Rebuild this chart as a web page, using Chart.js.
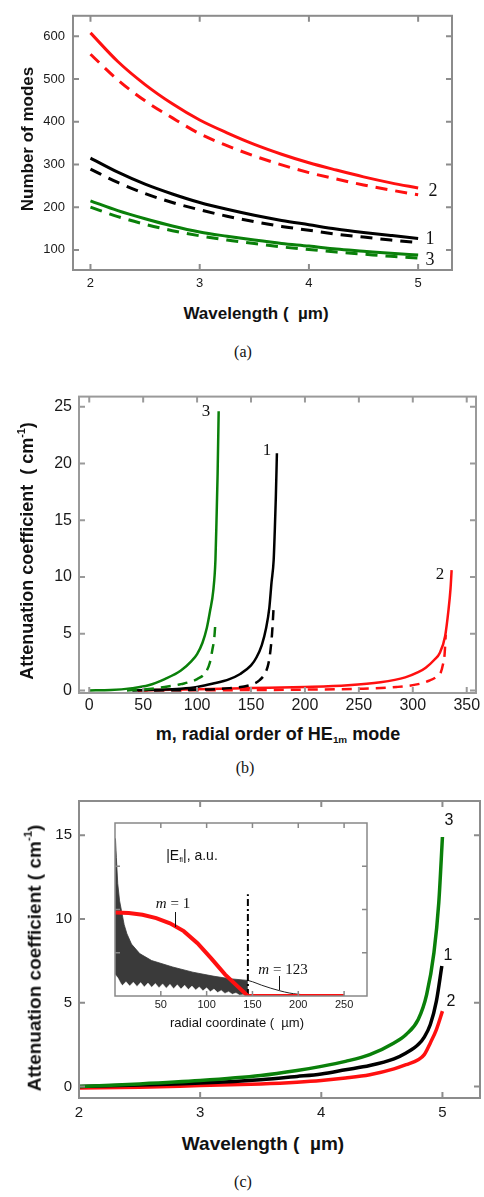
<!DOCTYPE html>
<html><head><meta charset="utf-8">
<script src="https://cdn.jsdelivr.net/npm/chart.js@4.4.0/dist/chart.umd.min.js"></script>
<style>
html,body{margin:0;padding:0;background:#fff;}
body{width:484px;height:1197px;position:relative;overflow:hidden;font-family:"Liberation Sans",Arial,sans-serif;color:#111;}
.box{position:absolute;}
.t{position:absolute;white-space:nowrap;transform:translate(-50%,-50%);line-height:1;}
.rot{transform:translate(-50%,-50%) rotate(-90deg);}
.serif{font-family:"Liberation Serif","Times New Roman",serif;}
.b{font-weight:bold;}
.ptr{position:absolute;width:0;border-left:1.2px solid #111;}
sup{font-size:0.6em;vertical-align:0.75em;}
sub{font-size:0.55em;vertical-align:-0.35em;}
</style></head><body>

<div class="box" style="left:0;top:0;width:484px;height:300px"><canvas id="ca"></canvas></div>
<div class="box" style="left:0;top:380px;width:484px;height:340px"><canvas id="cb"></canvas></div>
<div class="box" style="left:0;top:785px;width:484px;height:345px"><canvas id="cc"></canvas></div>
<div class="box" style="left:100px;top:815px;width:280px;height:225px"><canvas id="ci"></canvas></div>

<!-- panel (a) texts -->
<div class="t rot b" style="left:27px;top:139px;font-size:17px">Number of modes</div>
<div class="t b" style="left:256px;top:313px;font-size:17px">Wavelength (&nbsp;&nbsp;µm)</div>
<div class="t serif" style="left:243px;top:352px;font-size:16px">(a)</div>
<div class="t serif" style="left:433px;top:190px;font-size:18px">2</div>
<div class="t serif" style="left:430px;top:238px;font-size:18px">1</div>
<div class="t serif" style="left:430px;top:259px;font-size:18px">3</div>

<!-- panel (b) texts -->
<div class="t rot b" style="left:26px;top:551px;font-size:18px">Attenuation coefficient&nbsp;&nbsp;( cm<sup>-1</sup>)</div>
<div class="t b" style="left:278px;top:735px;font-size:18px">m, radial order of HE<sub>1m</sub> mode</div>
<div class="t serif" style="left:245px;top:768px;font-size:16px">(b)</div>
<div class="t serif" style="left:206px;top:410px;font-size:17px">3</div>
<div class="t serif" style="left:267px;top:449px;font-size:17px">1</div>
<div class="t serif" style="left:440px;top:573px;font-size:17px">2</div>

<!-- panel (c) texts -->
<div class="t rot b" style="left:33px;top:958px;font-size:19px">Attenuation coefficient ( cm<sup>-1</sup>)</div>
<div class="t b" style="left:263px;top:1143px;font-size:19px">Wavelength (&nbsp;&nbsp;µm)</div>
<div class="t serif" style="left:243px;top:1182px;font-size:16px">(c)</div>
<div class="t" style="left:449px;top:820px;font-size:16px">3</div>
<div class="t" style="left:448px;top:955px;font-size:16px">1</div>
<div class="t" style="left:451px;top:1001px;font-size:16px">2</div>

<!-- inset texts -->
<div class="t" style="left:192px;top:856px;font-size:14px">|E<sub>fi</sub>|, a.u.</div>
<div class="t serif" style="left:173px;top:903px;font-size:15px"><i>m</i> = 1</div>
<div class="ptr" style="left:175px;top:912px;height:15px"></div>
<div class="t serif" style="left:283px;top:969px;font-size:15px"><i>m</i> = 123</div>
<div class="ptr" style="left:279px;top:976px;height:14px"></div>
<div class="t" style="left:237px;top:1022px;font-size:13px">radial coordinate (&nbsp;&nbsp;µm)</div>

<script>
// ---------- Panel (a): number of modes vs wavelength ----------
const aWavelength = [2, 2.25, 2.5, 2.75, 3, 3.25, 3.5, 3.75, 4, 4.25, 4.5, 4.75, 5];
const aRedSolid   = [608, 541, 487, 442, 404, 374, 347, 324, 304, 287, 271, 257, 245];
const aRedDashed  = [558, 498, 449, 409, 372, 344, 320, 299, 281, 266, 252, 240, 229];
const aBlackSolid = [315, 282, 254, 231, 211, 195, 181, 169, 159, 149, 141, 134, 127];
const aBlackDashed= [289, 258, 232, 211, 194, 179, 166, 155, 146, 137, 130, 123, 117];
const aGreenSolid = [215, 192, 173, 156, 142, 132, 123, 115, 109, 102, 97, 92, 88];
const aGreenDashed= [200, 178, 160, 145, 133, 123, 115, 107, 101, 95, 90, 85, 81];
const aXTicks = [2, 3, 4, 5];
const aYTicks = [100, 200, 300, 400, 500, 600];

// ---------- Panel (b): attenuation vs radial order m ----------
const bGreenSolidM = [0, 20, 40, 55, 70, 85, 95, 100, 105, 109, 112, 115, 117, 118, 119, 120];
const bGreenSolidV = [0, 0.03, 0.2, 0.45, 1.0, 1.75, 2.6, 3.2, 4.2, 5.5, 7.0, 8.8, 11.5, 15, 19, 24.6];
const bGreenDashM  = [35, 50, 70, 85, 100, 108, 112, 114, 116, 117];
const bGreenDashV  = [0, 0.08, 0.3, 0.55, 1.0, 1.6, 2.5, 3.5, 4.7, 6.0];
const bBlackSolidM = [40, 60, 85, 100, 115, 130, 140, 150, 155, 160, 164, 167, 169, 171, 172, 173, 174];
const bBlackSolidV = [0, 0.05, 0.15, 0.3, 0.6, 1.0, 1.45, 2.2, 2.9, 4.0, 5.5, 7.3, 9.5, 11.5, 14, 17, 20.9];
const bBlackDashM  = [60, 100, 130, 150, 158, 163, 166, 168, 169.5, 171];
const bBlackDashV  = [0, 0.05, 0.2, 0.5, 0.9, 1.5, 2.3, 3.5, 5.0, 7.4];
const bRedSolidM   = [45, 100, 150, 200, 240, 270, 293, 305, 312, 320, 325, 330, 333, 335, 336];
const bRedSolidV   = [0, 0.1, 0.2, 0.3, 0.45, 0.72, 1.15, 1.6, 2.0, 2.7, 3.3, 4.8, 7.0, 9.0, 10.6];
const bRedDashM    = [45, 150, 200, 250, 285, 305, 315, 322, 326, 328, 329.5, 330.5];
const bRedDashV    = [0, 0.03, 0.07, 0.14, 0.3, 0.55, 0.85, 1.2, 1.6, 2.3, 3.2, 4.9];
const bXTicks = [0, 50, 100, 150, 200, 250, 300, 350];
const bYTicks = [0, 5, 10, 15, 20, 25];

// ---------- Panel (c): attenuation vs wavelength ----------
const cGreenL = [2.0, 2.5, 3.0, 3.5, 3.8, 4.0, 4.2, 4.4, 4.6, 4.7, 4.8, 4.87, 4.93, 4.97, 5.0];
const cGreenV = [0.0, 0.15, 0.35, 0.65, 0.95, 1.2, 1.5, 1.9, 2.6, 3.1, 4.0, 5.5, 8.0, 11.0, 14.9];
const cBlackL = [2.0, 2.5, 3.0, 3.5, 3.8, 4.0, 4.2, 4.4, 4.6, 4.7, 4.8, 4.85, 4.9, 4.95, 4.995];
const cBlackV = [0.0, 0.08, 0.2, 0.4, 0.6, 0.75, 1.0, 1.25, 1.65, 2.0, 2.5, 2.95, 3.7, 5.1, 7.2];
const cRedL   = [2.0, 2.5, 3.0, 3.5, 3.8, 4.0, 4.2, 4.4, 4.6, 4.7, 4.8, 4.85, 4.9, 4.95, 5.0];
const cRedV   = [-0.1, -0.05, 0.05, 0.15, 0.25, 0.35, 0.5, 0.7, 1.05, 1.3, 1.6, 1.9, 2.6, 3.4, 4.5];
const cXTicks = [2, 3, 4, 5];
const cYTicks = [0, 5, 10, 15];

// ---------- Inset: |E| vs radial coordinate ----------
const iRedR = [0, 15, 30, 45, 60, 75, 90, 105, 120, 135, 145, 250];
const iRedE = [1.93, 1.92, 1.88, 1.8, 1.68, 1.5, 1.22, 0.87, 0.5, 0.2, 0, 0];
const iUpperR = [0, 0.5, 1.5, 3, 5, 7, 10, 13, 18, 27, 40, 63, 85, 107, 125, 145];
const iUpperE = [0.5, 3.64, 3.2, 2.6, 2.2, 1.98, 1.65, 1.44, 1.2, 0.98, 0.82, 0.67, 0.55, 0.46, 0.4, 0.36];
const iLowerR = [0, 0.5, 3, 6, 8, 12, 16, 20, 24, 28, 32, 36, 40, 44, 48, 52, 56, 60, 64, 68, 72, 76, 80, 84, 88, 92, 96, 100, 104, 108, 112, 116, 120, 124, 128, 132, 136, 140, 145];
const iLowerE = [0.5, 0.5, 0.42, 0.3, 0.24, 0.33, 0.23, 0.32, 0.22, 0.31, 0.21, 0.3, 0.2, 0.29, 0.19, 0.28, 0.18, 0.27, 0.17, 0.26, 0.16, 0.25, 0.15, 0.23, 0.14, 0.21, 0.12, 0.19, 0.1, 0.16, 0.08, 0.13, 0.06, 0.1, 0.04, 0.07, 0.02, 0.03, 0.0];
const iTailR = [145, 150, 160, 170, 180, 190, 200, 210, 220];
const iTailE = [0.36, 0.33, 0.25, 0.18, 0.12, 0.07, 0.04, 0.02, 0.01];
const iCoreR = [145, 145];
const iCoreE = [0, 2.35];
const iXTicks = [50, 100, 150, 200, 250];
const iYTicks = [1, 2, 3];

const FONT = '"Liberation Sans", Arial, sans-serif';
const RED = '#ff1010', BLACK = '#000000', GREEN = '#0a800a';

function pts(xs, ys) { return xs.map((x, i) => ({ x: x, y: ys[i] })); }
function line(xs, ys, color, width, dash, smooth) {
  return { data: pts(xs, ys), borderColor: color, borderWidth: width, borderDash: dash || [],
    pointRadius: 0, showLine: true, fill: false, tension: 0,
    cubicInterpolationMode: smooth === false ? 'default' : 'monotone', borderCapStyle: 'butt' };
}
function axis(min, max, ticks, size, pad, fitKey, fitVal, show) {
  return { type: 'linear', min: min, max: max, bounds: 'data', display: show !== false,
    grid: { display: false, drawTicks: false }, border: { display: false },
    ticks: { autoSkip: false, maxRotation: 0, padding: pad, color: '#1a1a1a',
      font: { family: FONT, size: size }, callback: v => String(v) },
    afterBuildTicks: s => { s.ticks = ticks.map(v => ({ value: v })); },
    afterFit: s => { s[fitKey] = fitVal; } };
}
const frame = {
  id: 'frame',
  beforeDraw(chart, args, o) {
    if (!o.bg) return;
    const a = chart.chartArea, ctx = chart.ctx;
    ctx.save(); ctx.fillStyle = o.bg; ctx.fillRect(a.left, a.top, a.right - a.left, a.bottom - a.top); ctx.restore();
  },
  afterDraw(chart, args, o) {
    const a = chart.chartArea, ctx = chart.ctx, x = chart.scales.x, y = chart.scales.y;
    ctx.save();
    ctx.strokeStyle = o.color; ctx.lineWidth = o.width;
    ctx.beginPath();
    (o.xt || []).forEach(v => { const p = x.getPixelForValue(v);
      ctx.moveTo(p, a.bottom); ctx.lineTo(p, a.bottom - o.len);
      ctx.moveTo(p, a.top); ctx.lineTo(p, a.top + o.len); });
    (o.yt || []).forEach(v => { const p = y.getPixelForValue(v);
      ctx.moveTo(a.left, p); ctx.lineTo(a.left + o.len, p);
      ctx.moveTo(a.right, p); ctx.lineTo(a.right - o.len, p); });
    ctx.stroke();
    ctx.strokeRect(a.left, a.top, a.right - a.left, a.bottom - a.top);
    ctx.restore();
  }
};
function makeChart(id, datasets, xAx, yAx, pad, frameOpts) {
  return new Chart(document.getElementById(id), {
    type: 'scatter',
    data: { datasets: datasets },
    options: { responsive: true, maintainAspectRatio: false, animation: false, events: [],
      layout: { padding: pad },
      scales: { x: xAx, y: yAx },
      plugins: { legend: { display: false }, tooltip: { enabled: false }, frame: frameOpts } },
    plugins: [frame]
  });
}

// Panel (a)
makeChart('ca', [
  line(aWavelength, aGreenSolid, GREEN, 3),
  line(aWavelength, aGreenDashed, GREEN, 3, [12, 8]),
  line(aWavelength, aBlackSolid, BLACK, 3),
  line(aWavelength, aBlackDashed, BLACK, 3, [12, 8]),
  line(aWavelength, aRedSolid, RED, 3),
  line(aWavelength, aRedDashed, RED, 3, [12, 8])
], axis(1.84, 5.31, aXTicks, 13, 6, 'height', 30), axis(53, 648, aYTicks, 13, 8, 'width', 73),
  { left: 0, top: 8, right: 32, bottom: 0 },
  { color: '#8c8c8c', width: 2, len: 6, xt: aXTicks, yt: aYTicks });

// Panel (b)
makeChart('cb', [
  line(bGreenSolidM, bGreenSolidV, GREEN, 2.5),
  line(bGreenDashM, bGreenDashV, GREEN, 2.5, [10, 7]),
  line(bBlackSolidM, bBlackSolidV, BLACK, 2.5),
  line(bBlackDashM, bBlackDashV, BLACK, 2.5, [10, 7]),
  line(bRedSolidM, bRedSolidV, RED, 2.5),
  line(bRedDashM, bRedDashV, RED, 2.5, [10, 7])
], axis(-9.5, 358.6, bXTicks, 16, 3, 'height', 27), axis(-0.23, 25.9, bYTicks, 16, 7, 'width', 79),
  { left: 0, top: 13, right: 8, bottom: 0 },
  { color: '#9a9a9a', width: 2, len: 6, xt: bXTicks, yt: bYTicks });

// Panel (c)
makeChart('cc', [
  line(cGreenL, cGreenV, GREEN, 3.5),
  line(cBlackL, cBlackV, BLACK, 3.5),
  line(cRedL, cRedV, RED, 3.5)
], axis(2.0, 5.31, cXTicks, 15, 6, 'height', 32), axis(-0.69, 17.05, cYTicks, 15, 7, 'width', 79),
  { left: 0, top: 11, right: 4, bottom: 0 },
  { color: '#8c8c8c', width: 2, len: 6, xt: cXTicks, yt: cYTicks });

// Inset: grey band = area under upper envelope, with white area under the scalloped lower edge on top
const upper = line(iUpperR, iUpperE, '#3a3a3a', 0.8, [], false);
upper.fill = 'origin'; upper.backgroundColor = '#3a3a3a';
const lower = line(iLowerR, iLowerE, '#ffffff', 0.5, [], false);
lower.fill = 'origin'; lower.backgroundColor = '#ffffff';
makeChart('ci', [
  line(iRedR, iRedE, RED, 4, [], false),
  line(iCoreR, iCoreE, BLACK, 2, [7, 3, 2, 3], false),
  line(iTailR, iTailE, '#222', 1),
  lower,
  upper
], axis(0, 275, iXTicks, 11, 2, 'height', 44), axis(0, 4, iYTicks, 11, 2, 'width', 0, false),
  { left: 15, top: 8, right: 13, bottom: 0 },
  { color: '#888', width: 1.5, len: 5, xt: iXTicks, yt: iYTicks, bg: '#ffffff' });
</script>
</body></html>
